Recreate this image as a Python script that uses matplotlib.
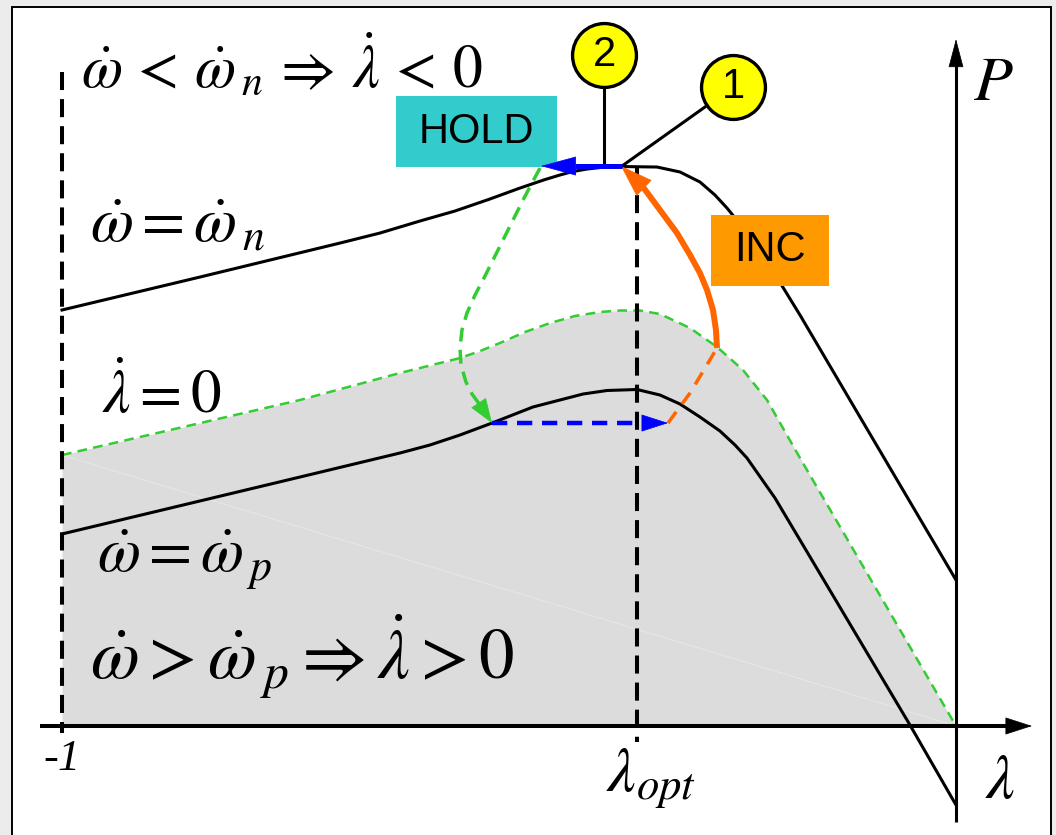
import matplotlib.pyplot as plt
from matplotlib.patches import Rectangle

plt.rcParams['mathtext.fontset'] = 'stix'
plt.rcParams['lines.scale_dashes'] = False

# slip runs from -1 (left) to 0 (on the P axis), power scaled to the top curve's peak
lam_n = [-1.0, -0.8456, -0.6890, -0.6443, -0.5996, -0.5604, -0.5213, -0.4877,
         -0.4597, -0.4430, -0.4284, -0.4128, -0.3982, -0.3758, -0.3345, -0.3087,
         -0.2864, -0.2696, -0.2562, -0.2360, -0.2192, -0.1745, -0.1186, 0.0]
p_n = [0.7442, 0.8032, 0.8640, 0.8819, 0.9034, 0.9213, 0.9428, 0.9624,
       0.9776, 0.9857, 0.9920, 0.9964, 0.9991, 1.0009, 1.0, 0.9911,
       0.9732, 0.9499, 0.9267, 0.8873, 0.8515, 0.7352, 0.5832, 0.2612]

lam_p = [-1.0, -0.7338, -0.6219, -0.5884, -0.5548, -0.5190, -0.4933, -0.4732,
         -0.4430, -0.4172, -0.3904, -0.3568, -0.3311, -0.3087, -0.2864, -0.2640,
         -0.2472, -0.2338, -0.2025, -0.1745, -0.0515, 0.0]
p_p = [0.3435, 0.4454, 0.4884, 0.5027, 0.5206, 0.5420, 0.5581, 0.5707,
       0.5832, 0.5939, 0.6002, 0.6020, 0.5921, 0.5760, 0.5528, 0.5277,
       0.5027, 0.4794, 0.4079, 0.3327, 0.0018, -0.1413]

lam_zero = [-1.0, -0.7338, -0.6219, -0.5548, -0.5324, -0.5101, -0.4821, -0.4541,
            -0.4262, -0.3982, -0.3758, -0.3535, -0.3311, -0.2975, -0.2673, -0.2383,
            -0.2114, -0.1745, 0.0]
p_zero = [0.4848, 0.5832, 0.6315, 0.6583, 0.6708, 0.6852, 0.7048, 0.7209,
          0.7335, 0.7406, 0.7433, 0.7433, 0.7370, 0.7120, 0.6780, 0.6369,
          0.5832, 0.4794, 0.0]

lam_opt = -0.357

# HOLD: step back from the peak, then fall to the lower curve
hold_lam = [-0.3736, -0.4262, -0.4642]
hold_p = [1.0018, 1.0018, 1.0018]
fall_lam = [-0.4653, -0.4743, -0.4843, -0.4955, -0.5067, -0.5179, -0.5280, -0.5380,
            -0.5470, -0.5526, -0.5548, -0.5537, -0.5481, -0.5414, -0.5324, -0.5190]
fall_p = [0.9982, 0.9714, 0.9410, 0.9052, 0.8694, 0.8336, 0.8014, 0.7710,
          0.7388, 0.7084, 0.6762, 0.6458, 0.6154, 0.5939, 0.5742, 0.5420]

# INC: move along the lower curve, then climb back to the peak
step_lam = [-0.519, -0.3501, -0.3221]
step_p = [0.542, 0.542, 0.542]
rise_dash_lam = [-0.3221, -0.2975, -0.2673]
rise_dash_p = [0.542, 0.5957, 0.6762]
rise_lam = [-0.2673, -0.2685, -0.2718, -0.2785, -0.2864, -0.2975, -0.3121,
            -0.3311, -0.3501, -0.3747]
rise_p = [0.6762, 0.7084, 0.7442, 0.7800, 0.8104, 0.8426, 0.8819,
          0.9231, 0.9642, 1.0018]

GREEN = '#33cc33'
BLUE = '#0000ff'
ORANGE = '#ff6600'


def head(ax, start, end, color, hl, hw, z=5):
    # filled arrow head only; the shaft is plotted separately
    ax.annotate('', xy=end, xytext=start,
                arrowprops=dict(arrowstyle=f'-|>,head_length={hl},head_width={hw}',
                                color=color, lw=0.5, shrinkA=0, shrinkB=0,
                                mutation_scale=1),
                zorder=z)


fig = plt.figure(figsize=(10.56, 8.35), dpi=100, facecolor='#ececec')
ax = fig.add_axes([0, 0, 1, 1])
ax.set_xlim(-1.06935, 0.11186)
ax.set_ylim(-0.195, 1.2988)
ax.axis('off')

ax.add_patch(Rectangle((0.01136, -0.01), 0.9839, 1.0016, transform=fig.transFigure,
                       facecolor='white', edgecolor='black', lw=1.4, zorder=0,
                       clip_on=False))

# region where lambda-dot > 0
ax.fill_between(lam_zero, p_zero, 0, color='#dcdcdc', lw=0, zorder=1)
ax.plot([lam_zero[0], lam_zero[-1]], [p_zero[0], p_zero[-1]], color='#e9e9e9', lw=0.6, zorder=1.1)
ax.plot(lam_zero, p_zero, color=GREEN, lw=1.8, dashes=(7, 4.5), zorder=2)

ax.plot(lam_n, p_n, color='black', lw=2.2, zorder=3)
ax.plot(lam_p, p_p, color='black', lw=2.2, zorder=3)

ax.plot([-1, -1], [1.170, -0.0125], color='black', lw=2.9, dashes=(13, 6.5), zorder=3)
ax.plot([lam_opt, lam_opt], [0.998, -0.0286], color='black', lw=2.9, dashes=(13, 6.5), zorder=3)

# axes
ax.plot([-1.0246, 0.060], [0, 0], color='black', lw=2.9, solid_capstyle='butt', zorder=4)
head(ax, (0.057, 0), (0.085, 0), 'black', 18, 5.8, z=4)
ax.plot([0, 0], [-0.172, 1.19], color='black', lw=2.2, solid_capstyle='butt', zorder=4)
head(ax, (0, 1.1825), (0, 1.229), 'black', 19, 5, z=4)

# HOLD path
ax.plot(hold_lam[:2], hold_p[:2], color=BLUE, lw=3.6, solid_capstyle='butt', zorder=7)
head(ax, (hold_lam[1], hold_p[1]), (hold_lam[2], hold_p[2]), BLUE, 24, 6.5, z=7)
ax.plot(fall_lam[:-1], fall_p[:-1], color=GREEN, lw=2.5, dashes=(10, 6), zorder=5)
head(ax, (fall_lam[-2], fall_p[-2]), (fall_lam[-1], fall_p[-1]), GREEN, 16.5, 6)

# INC path
ax.plot(step_lam[:2], step_p[:2], color=BLUE, lw=3.2, dashes=(11, 7), zorder=5)
head(ax, (step_lam[1], step_p[1]), (step_lam[2], step_p[2]), BLUE, 18, 5.8)
ax.plot(rise_dash_lam, rise_dash_p, color=ORANGE, lw=2.5, dashes=(10, 7), zorder=5)
ax.plot(rise_lam[:-1], rise_p[:-1], color=ORANGE, lw=4.3, solid_capstyle='butt', zorder=5)
head(ax, (rise_lam[-2], rise_p[-2]), (rise_lam[-1], rise_p[-1]), ORANGE, 22, 7.5)

# state boxes
ax.add_patch(Rectangle((-0.6264, 1.0), 0.1801, 0.127, facecolor='#33cccc', lw=0, zorder=6))
ax.text(-0.5364, 1.0635, 'HOLD', family='Liberation Sans', fontsize=30,
        ha='center', va='center', zorder=8)
ax.add_patch(Rectangle((-0.274, 0.787), 0.132, 0.127, facecolor='#ff9900', lw=0, zorder=6))
ax.text(-0.208, 0.851, 'INC', family='Liberation Sans', fontsize=30,
        ha='center', va='center', zorder=8)

# numbered markers
ax.plot([-0.3937, -0.3937], [1.2004, 1.0036], color='black', lw=2.2, zorder=6)
ax.plot([-0.3736, -0.2494], [1.0018, 1.1431], color='black', lw=2.2, zorder=6)
for lam, p, num in [(-0.3932, 1.2004, '2'), (-0.2494, 1.1431, '1')]:
    ax.plot([lam], [p], 'o', ms=46, mfc='#ffff00', mec='black', mew=2.4, zorder=7)
    ax.text(lam, p, num, family='Liberation Sans', fontsize=30,
            ha='center', va='center', zorder=8)

# labels
ax.text(-0.979, 1.143,
        r'$\dot{\omega}\,<\,\dot{\omega}_{\,n}\,\Rightarrow\,\dot{\lambda}\,<\,0$',
        fontsize=43, ha='left', va='baseline', zorder=8)
ax.text(-0.969, 0.866, r'$\dot{\omega} = \dot{\omega}_{\,n}$', fontsize=45,
        ha='left', va='baseline', zorder=8)
ax.text(-0.955, 0.560, r'$\dot{\lambda} = 0$', fontsize=44,
        ha='left', va='baseline', zorder=8)
ax.text(-0.961, 0.274, r'$\dot{\omega} = \dot{\omega}_{\,p}$', fontsize=45,
        ha='left', va='baseline', zorder=8)
ax.text(-0.969, 0.082,
        r'$\dot{\omega} > \dot{\omega}_{\,p} \Rightarrow \dot{\lambda} > 0$',
        fontsize=51, ha='left', va='baseline', zorder=8)

ax.text(-1.0, -0.079, '-1', family='Liberation Serif', style='italic', fontsize=32,
        ha='center', va='baseline', zorder=8)
ax.text(-0.3915, -0.118, r'$\lambda_{opt}$', fontsize=46, ha='left', va='baseline', zorder=8)
ax.text(0.0324, -0.129, r'$\lambda$', fontsize=46, ha='left', va='baseline', zorder=8)
ax.text(0.019, 1.12, r'$P$', fontsize=46, ha='left', va='baseline', zorder=8)

fig.savefig('out.png', dpi=100, facecolor=fig.get_facecolor())
